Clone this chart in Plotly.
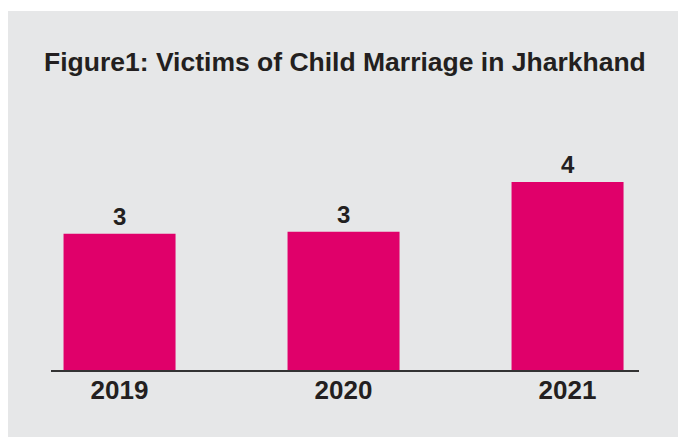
import plotly.graph_objects as go

years = ["2019", "2020", "2021"]
victims = [2.9, 2.94, 4.0]
labels = ["3", "3", "4"]

title_text = "Figure1: Victims of Child Marriage in Jharkhand"

W, H = 678, 437
ml, mr, mt, mb = 51, 39, 135, 67
pw, ph = W - ml - mr, H - mt - mb

bg = "#E6E7E8"
bar_color = "#E0006A"
txt = "#231F20"

fig = go.Figure()
fig.add_trace(go.Bar(
    x=years, y=victims, marker=dict(color=bar_color, line=dict(width=0)),
    width=0.5, hoverinfo="skip",
))

annotations = []
for i, (y, t) in enumerate(zip(victims, labels)):
    annotations.append(dict(
        x=i, y=y, xref="x", yref="y", text=t, showarrow=False,
        yanchor="bottom", yshift=2,
        font=dict(family="Liberation Sans, Arial, sans-serif", size=24, color=txt, weight="bold"),
    ))
annotations.append(dict(
    x=(345 - ml) / pw, y=(H - mb - 62) / ph, xref="paper", yref="paper",
    text=title_text, showarrow=False, xanchor="center", yanchor="middle",
    font=dict(family="Liberation Sans, Arial, sans-serif",
              size=26.5, color=txt, weight="bold"),
))

fig.update_layout(
    width=W, height=H,
    margin=dict(l=ml, r=mr, t=mt, b=mb, pad=0),
    paper_bgcolor="white", plot_bgcolor="rgba(0,0,0,0)",
    showlegend=False,
    annotations=annotations,
    shapes=[dict(
        type="rect", xref="paper", yref="paper", layer="below",
        x0=(8 - ml) / pw, x1=(W + 5 - ml) / pw,
        y0=(H - mb - (H + 5)) / ph, y1=(H - mb - 11) / ph,
        fillcolor=bg, line=dict(width=0),
    )],
    xaxis=dict(
        type="category", range=[-0.306, 2.319],
        showgrid=False, zeroline=False,
        showline=True, linecolor="#333333", linewidth=1.5,
        ticks="", ticklabelstandoff=-4,
        tickfont=dict(family="Liberation Sans, Arial, sans-serif", size=26, color=txt, weight="bold"),
    ),
    yaxis=dict(
        range=[0, 5], visible=False, showgrid=False, zeroline=False,
    ),
)

fig.write_html("out.html", config={"displayModeBar": False},
               post_script="document.body.style.margin='0';")
